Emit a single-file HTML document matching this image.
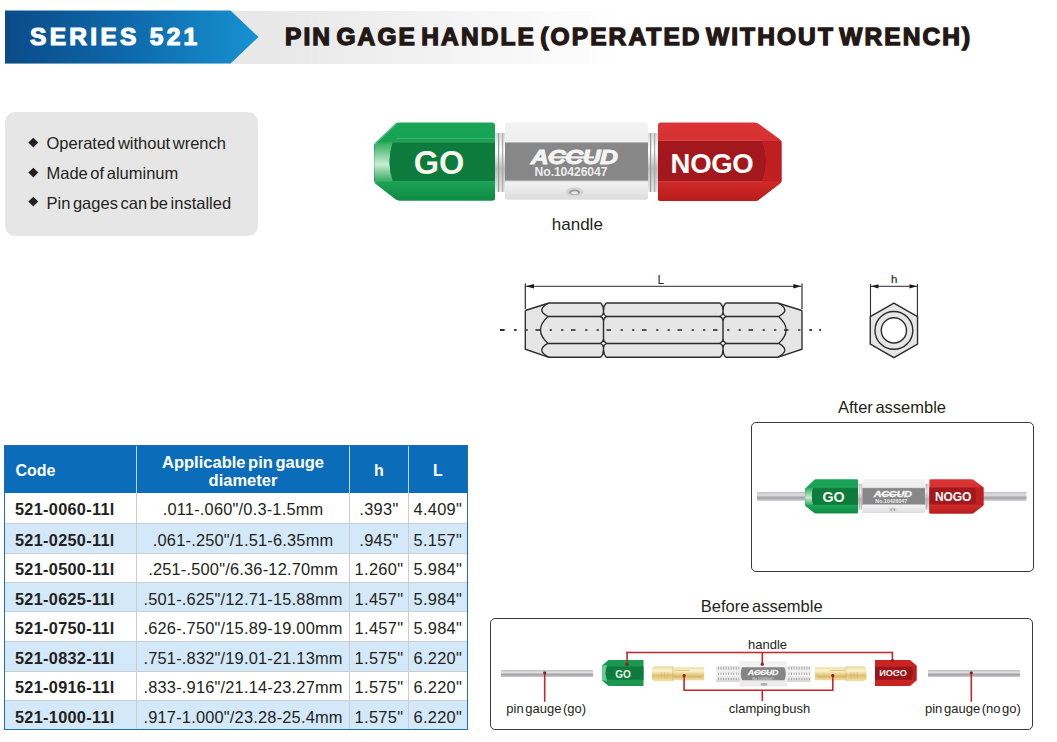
<!DOCTYPE html><html><head><meta charset="utf-8"><style>
html,body{margin:0;padding:0;background:#fff;}
body{width:1057px;height:742px;position:relative;overflow:hidden;font-family:"Liberation Sans",sans-serif;color:#231f20;}
.a{position:absolute;white-space:nowrap;line-height:1;}
svg{position:absolute;overflow:visible;}
</style></head><body>
<div class="a" style="left:5px;top:10.5px;width:640px;height:53px;background:linear-gradient(90deg,#e3e3e3 0%,#e9e9e9 45%,#ffffff 97%)"></div>
<svg style="left:0;top:0" width="270" height="70"><defs><linearGradient id="bg1" x1="0" x2="1" y1="0" y2="0"><stop offset="0" stop-color="#0a4b88"/><stop offset="0.5" stop-color="#0e6aac"/><stop offset="1" stop-color="#1792d2"/></linearGradient></defs>
<polygon points="5,10.5 230.5,10.5 258.5,37 230.5,63.5 5,63.5" fill="url(#bg1)"/></svg>
<div class="a" style="left:30px;top:24.5px;font-size:24.5px;font-weight:bold;letter-spacing:3.3px;color:#fff;-webkit-text-stroke:1.2px #fff">SERIES 521</div>
<div class="a" style="left:285px;top:24.5px;font-size:24.5px;font-weight:bold;letter-spacing:2.1px;word-spacing:-4.6px;color:#231815;-webkit-text-stroke:1.35px #231815">PIN GAGE HANDLE (OPERATED WITHOUT WRENCH)</div>
<div class="a" style="left:5px;top:112px;width:253px;height:124px;background:#e6e6e6;border-radius:10px"></div>
<div class="a" style="left:30.3px;top:139.2px;width:6.6px;height:6.6px;background:#231f20;transform:rotate(45deg)"></div>
<div class="a" style="left:46.5px;top:135.0px;font-size:16.5px;word-spacing:-2px">Operated without wrench</div>
<div class="a" style="left:30.3px;top:168.8px;width:6.6px;height:6.6px;background:#231f20;transform:rotate(45deg)"></div>
<div class="a" style="left:46.5px;top:165.0px;font-size:16.5px;word-spacing:-2px">Made of aluminum</div>
<div class="a" style="left:30.3px;top:198.4px;width:6.6px;height:6.6px;background:#231f20;transform:rotate(45deg)"></div>
<div class="a" style="left:46.5px;top:195.0px;font-size:16.5px;word-spacing:-2px">Pin gages can be installed</div>
<svg style="left:374px;top:122px" width="408.0" height="80.0" viewBox="0 0 408 80">
<defs>
<linearGradient id="h1gt" x1="0" y1="0" x2="0" y2="1"><stop offset="0" stop-color="#19a456"/><stop offset="1" stop-color="#0f994b"/></linearGradient>
<linearGradient id="h1gb" x1="0" y1="0" x2="0" y2="1"><stop offset="0" stop-color="#1aa456"/><stop offset="1" stop-color="#0e8a44"/></linearGradient>
<linearGradient id="h1gc" x1="0" y1="0" x2="0" y2="1"><stop offset="0" stop-color="#2aa85a"/><stop offset="0.35" stop-color="#8fd4a8"/><stop offset="0.55" stop-color="#c8ecd2"/><stop offset="1" stop-color="#2aa35a"/></linearGradient>
<linearGradient id="h1rt" x1="0" y1="0" x2="0" y2="1"><stop offset="0" stop-color="#da3434"/><stop offset="1" stop-color="#cb2626"/></linearGradient>
<linearGradient id="h1rb" x1="0" y1="0" x2="0" y2="1"><stop offset="0" stop-color="#d02a2a"/><stop offset="1" stop-color="#b81c1c"/></linearGradient>
<linearGradient id="h1st" x1="0" y1="0" x2="0" y2="1"><stop offset="0" stop-color="#f2f2f2"/><stop offset="1" stop-color="#e4e4e4"/></linearGradient>
<linearGradient id="h1sb" x1="0" y1="0" x2="0" y2="1"><stop offset="0" stop-color="#f4f4f4"/><stop offset="1" stop-color="#dcdcdc"/></linearGradient>
<linearGradient id="h1nk" x1="0" y1="0" x2="0" y2="1"><stop offset="0" stop-color="#d8d8d8"/><stop offset="0.3" stop-color="#ffffff"/><stop offset="0.6" stop-color="#bdbdbd"/><stop offset="1" stop-color="#e8e8e8"/></linearGradient>
</defs>
<!-- necks -->
<rect x="119" y="11" width="14" height="59" fill="url(#h1nk)"/>
<rect x="124" y="11" width="1.2" height="59" fill="#9a9a9a"/>
<rect x="128" y="11" width="1.2" height="59" fill="#a8a8a8"/>
<rect x="272" y="11" width="13" height="59" fill="url(#h1nk)"/>
<rect x="276" y="11" width="1.2" height="59" fill="#9a9a9a"/>
<rect x="280" y="11" width="1.2" height="59" fill="#a8a8a8"/>
<!-- green -->
<path d="M22,1 Q24,0.5 26,0.5 H118 Q121,0.5 121,3 V76 Q121,78.5 118,78.5 H26 Q24,78.5 22,77.5 L2,62 Q0,60.5 0,58 V24 Q0,21.5 2,20 Z" fill="url(#h1gt)"/>
<path d="M1,21 L19,19.5 Q12,40 19,59.5 L1,61 Q-0.5,40 1,21 Z" fill="url(#h1gc)"/>
<path d="M19,19.5 H121 V59.5 H19 Q12,40 19,19.5 Z" fill="#0c7b3c"/>
<path d="M19,59.5 H121 V76 Q121,78.5 118,78.5 H26 Q24,78.5 22,77.5 L2,62 Q0.5,61 1,61 Z" fill="url(#h1gb)"/>
<path d="M22,16.5 H121" stroke="#54c585" stroke-width="1" opacity="0.55"/>
<path d="M19,19.8 H121" stroke="#3db06c" stroke-width="1.2" opacity="0.8"/>
<path d="M19,59.3 H121" stroke="#2ea862" stroke-width="1" opacity="0.7"/>
<path d="M1,22 L22,2" stroke="#7fd3a0" stroke-width="1.6" opacity="0.5"/>
<!-- silver -->
<rect x="131" y="0.5" width="143" height="77" rx="2.5" fill="url(#h1st)"/>
<rect x="131" y="20.5" width="143" height="38.5" fill="#878787"/>
<rect x="131" y="59" width="143" height="18.5" rx="2" fill="url(#h1sb)"/>
<rect x="131" y="20" width="143" height="1" fill="#b8b8b8"/>
<rect x="131" y="58.5" width="143" height="1" fill="#d0d0d0"/>
<ellipse cx="200.5" cy="70" rx="9" ry="4.5" fill="#d4d4d4"/>
<ellipse cx="200.5" cy="70.3" rx="5.5" ry="2.8" fill="#9a9a9a"/>
<ellipse cx="200.5" cy="70.8" rx="3.5" ry="1.6" fill="#e8e8e8"/>
<!-- red -->
<path d="M284,3 Q284,0.5 287,0.5 H381 Q383,0.5 385,2 L405.5,17 Q407.5,18.5 407.5,21 V58 Q407.5,60.5 405.5,62 L385,77.5 Q383,79 381,79 H287 Q284,79 284,76.5 Z" fill="url(#h1rt)"/>
<path d="M284,19 H388 Q396,40 388,59 H284 Z" fill="#a3181c"/>
<path d="M284,59 H388 L407.5,60 L385,77.5 Q383,79 381,79 H287 Q284,79 284,76.5 Z" fill="url(#h1rb)"/>
<path d="M388,19 L407.5,19 V60 L388,59 Q396,40 388,19 Z" fill="#c01f22"/>
<path d="M284,18.5 H388" stroke="#e25555" stroke-width="1" opacity="0.6"/>
<path d="M284,59.5 H388" stroke="#dc4444" stroke-width="1" opacity="0.5"/>
<!-- text -->
<text x="65" y="52.2" text-anchor="middle" font-family="Liberation Sans" font-weight="bold" font-size="32.5" fill="#f6f6ee" letter-spacing="0">GO</text>
<text x="338" y="51.2" text-anchor="middle" font-family="Liberation Sans" font-weight="bold" font-size="27.5" fill="#ffffff" letter-spacing="-0.3">NOGO</text>
<g transform="translate(200,0) scale(1.24,1)"><text x="0" y="42" text-anchor="middle" font-family="Liberation Sans" font-weight="bold" font-style="italic" font-size="20" fill="#f4f4f4" stroke="#f4f4f4" stroke-width="0.9" letter-spacing="-0.5">ACCUD</text></g><rect x="174" y="34.3" width="46" height="2.2" fill="#f4f4f4"/>
<text x="197" y="54" text-anchor="middle" font-family="Liberation Sans" font-weight="bold" font-size="12.2" fill="#ececec" letter-spacing="-0.1">No.10426047</text>
</svg>
<div class="a" style="left:551.8px;top:215.5px;font-size:17px">handle</div>
<svg style="left:0;top:0" width="1057" height="742">
<line x1="500" y1="330" x2="821" y2="330" stroke="#222" stroke-width="1.4" stroke-dasharray="4.5 9.7 2.2 9.2 2.2 7.7" stroke-dashoffset="0"/>
<path d="M525.3,310.5 L549,303 H777.6 L802,310.5 V349.2 L777.6,357.3 H549 L525.3,349.2 Z" fill="#e6e6e6"/>
<line x1="500" y1="330" x2="821" y2="330" stroke="#222" stroke-width="1.4" stroke-dasharray="4.5 9.7 2.2 9.2 2.2 7.7"/>
<path d="M525.3,310.5 L549,303 M525.3,310.5 V349.2 L549,357.3" stroke="#2b2b2b" stroke-width="1.35" fill="none"/>
<path d="M802,310.5 L777.6,303 M802,310.5 V349.2 L777.6,357.3" stroke="#2b2b2b" stroke-width="1.35" fill="none"/>
<line x1="549" y1="303" x2="600.8" y2="303" stroke="#2b2b2b" stroke-width="1.6"/>
<line x1="549" y1="357.3" x2="600.8" y2="357.3" stroke="#2b2b2b" stroke-width="1.6"/>
<line x1="606.2" y1="303" x2="720.3" y2="303" stroke="#2b2b2b" stroke-width="1.6"/>
<line x1="606.2" y1="357.3" x2="720.3" y2="357.3" stroke="#2b2b2b" stroke-width="1.6"/>
<line x1="725.7" y1="303" x2="777.6" y2="303" stroke="#2b2b2b" stroke-width="1.6"/>
<line x1="725.7" y1="357.3" x2="777.6" y2="357.3" stroke="#2b2b2b" stroke-width="1.6"/>
<line x1="548" y1="316.5" x2="600.5" y2="316.5" stroke="#2b2b2b" stroke-width="1.5"/>
<line x1="548" y1="343.4" x2="600.5" y2="343.4" stroke="#2b2b2b" stroke-width="1.5"/>
<line x1="606.5" y1="316.5" x2="720" y2="316.5" stroke="#2b2b2b" stroke-width="1.5"/>
<line x1="606.5" y1="343.4" x2="720" y2="343.4" stroke="#2b2b2b" stroke-width="1.5"/>
<line x1="726" y1="316.5" x2="778.5" y2="316.5" stroke="#2b2b2b" stroke-width="1.5"/>
<line x1="726" y1="343.4" x2="778.5" y2="343.4" stroke="#2b2b2b" stroke-width="1.5"/>
<path d="M549,303 Q535,309.7 548,316.5 Q533,330 548,343.4 Q535,350.3 549,357.3" stroke="#2b2b2b" stroke-width="1.35" fill="none"/>
<path d="M777.6,303 Q791.6,309.7 778.6,316.5 Q793.6,330 778.6,343.4 Q791.6,350.3 777.6,357.3" stroke="#2b2b2b" stroke-width="1.35" fill="none"/>
<path d="M600.8,303 Q603.5,306 603.5,310 Q603.5,306 606.2,303" stroke="#2b2b2b" stroke-width="1.35" fill="none"/>
<path d="M600.8,357.3 Q603.5,354.3 603.5,350.3 Q603.5,354.3 606.2,357.3" stroke="#2b2b2b" stroke-width="1.35" fill="none"/>
<line x1="603.5" y1="306" x2="603.5" y2="354.3" stroke="#2b2b2b" stroke-width="1.4"/>
<path d="M600.5,316.5 Q603.0,315.5 603.5,312.5 Q604.0,315.5 606.5,316.5 Q604.0,317.5 603.5,320.5 Q603.0,317.5 600.5,316.5 Z" fill="#fff" stroke="#2b2b2b" stroke-width="1.35" fill="none"/>
<path d="M600.5,343.4 Q603.0,342.4 603.5,339.4 Q604.0,342.4 606.5,343.4 Q604.0,344.4 603.5,347.4 Q603.0,344.4 600.5,343.4 Z" fill="#fff" stroke="#2b2b2b" stroke-width="1.35" fill="none"/>
<path d="M720.3,303 Q723,306 723,310 Q723,306 725.7,303" stroke="#2b2b2b" stroke-width="1.35" fill="none"/>
<path d="M720.3,357.3 Q723,354.3 723,350.3 Q723,354.3 725.7,357.3" stroke="#2b2b2b" stroke-width="1.35" fill="none"/>
<line x1="723" y1="306" x2="723" y2="354.3" stroke="#2b2b2b" stroke-width="1.4"/>
<path d="M720,316.5 Q722.5,315.5 723,312.5 Q723.5,315.5 726,316.5 Q723.5,317.5 723,320.5 Q722.5,317.5 720,316.5 Z" fill="#fff" stroke="#2b2b2b" stroke-width="1.35" fill="none"/>
<path d="M720,343.4 Q722.5,342.4 723,339.4 Q723.5,342.4 726,343.4 Q723.5,344.4 723,347.4 Q722.5,344.4 720,343.4 Z" fill="#fff" stroke="#2b2b2b" stroke-width="1.35" fill="none"/>
<line x1="525.3" y1="283.5" x2="525.3" y2="309" stroke="#2b2b2b" stroke-width="1.2"/>
<line x1="802" y1="283.5" x2="802" y2="309" stroke="#2b2b2b" stroke-width="1.2"/>
<line x1="526" y1="286.3" x2="801" y2="286.3" stroke="#2b2b2b" stroke-width="1"/>
<path d="M525.8,286.3 L534,284 L534,288.6 Z" fill="#1a1a1a"/>
<path d="M801.5,286.3 L793.3,284 L793.3,288.6 Z" fill="#1a1a1a"/>
<polygon points="893.90,303.10 870.26,316.75 870.26,344.05 893.90,357.70 917.54,344.05 917.54,316.75" fill="#e6e6e6" stroke="#2b2b2b" stroke-width="1.4"/>
<circle cx="893.9" cy="330.4" r="18.9" fill="none" stroke="#2b2b2b" stroke-width="1.4"/>
<circle cx="893.9" cy="330.4" r="12.6" fill="#fff" stroke="#2b2b2b" stroke-width="1.4"/>
<line x1="870.5" y1="284" x2="870.5" y2="316.5" stroke="#2b2b2b" stroke-width="1.1"/>
<line x1="917.4" y1="284" x2="917.4" y2="316.5" stroke="#2b2b2b" stroke-width="1.1"/>
<line x1="871" y1="286.3" x2="917" y2="286.3" stroke="#2b2b2b" stroke-width="1"/>
<path d="M871,286.3 L878.5,284.2 L878.5,288.4 Z" fill="#1a1a1a"/>
<path d="M917,286.3 L909.5,284.2 L909.5,288.4 Z" fill="#1a1a1a"/>
</svg>
<div class="a" style="left:657.5px;top:273.8px;font-size:12px;color:#2b2b2b">L</div>
<div class="a" style="left:891px;top:274.3px;font-size:11.5px;color:#2b2b2b;-webkit-text-stroke:0.2px #2b2b2b">h</div>
<div class="a" style="left:5px;top:446px;width:462.5px;height:46.5px;background:#0b6db9"></div>
<div class="a" style="left:5px;top:492.5px;width:462.5px;height:30.799999999999955px;background:#ffffff"></div>
<div class="a" style="left:5px;top:523.3px;width:462.5px;height:29.800000000000068px;background:#d3e8f8"></div>
<div class="a" style="left:5px;top:553.1px;width:462.5px;height:29.299999999999955px;background:#ffffff"></div>
<div class="a" style="left:5px;top:582.4px;width:462.5px;height:29.300000000000068px;background:#d3e8f8"></div>
<div class="a" style="left:5px;top:611.7px;width:462.5px;height:29.699999999999932px;background:#ffffff"></div>
<div class="a" style="left:5px;top:641.4px;width:462.5px;height:29.700000000000045px;background:#d3e8f8"></div>
<div class="a" style="left:5px;top:671.1px;width:462.5px;height:29.299999999999955px;background:#ffffff"></div>
<div class="a" style="left:5px;top:700.4px;width:462.5px;height:29.0px;background:#d3e8f8"></div>
<div class="a" style="left:5px;top:522.8px;width:462.5px;height:1px;background:#c9cdd1"></div>
<div class="a" style="left:5px;top:552.6px;width:462.5px;height:1px;background:#c9cdd1"></div>
<div class="a" style="left:5px;top:581.9px;width:462.5px;height:1px;background:#c9cdd1"></div>
<div class="a" style="left:5px;top:611.2px;width:462.5px;height:1px;background:#c9cdd1"></div>
<div class="a" style="left:5px;top:640.9px;width:462.5px;height:1px;background:#c9cdd1"></div>
<div class="a" style="left:5px;top:670.6px;width:462.5px;height:1px;background:#c9cdd1"></div>
<div class="a" style="left:5px;top:699.9px;width:462.5px;height:1px;background:#c9cdd1"></div>
<div class="a" style="left:136.0px;top:492.5px;width:1px;height:237px;background:#c9cdd1"></div>
<div class="a" style="left:136.0px;top:446px;width:1px;height:46.5px;background:#bcd6ee"></div>
<div class="a" style="left:349.2px;top:492.5px;width:1px;height:237px;background:#c9cdd1"></div>
<div class="a" style="left:349.2px;top:446px;width:1px;height:46.5px;background:#bcd6ee"></div>
<div class="a" style="left:407.7px;top:492.5px;width:1px;height:237px;background:#c9cdd1"></div>
<div class="a" style="left:407.7px;top:446px;width:1px;height:46.5px;background:#bcd6ee"></div>
<div class="a" style="left:4px;top:445px;width:461.5px;height:282.5px;border:1.6px solid #1f6db4"></div>
<div class="a" style="left:15.5px;top:463px;font-size:16px;font-weight:bold;color:#fff">Code</div>
<div class="a" style="left:136.5px;width:213px;top:453.2px;font-size:16px;font-weight:bold;color:#fff;font-size:16.5px;text-align:center;line-height:18.3px;white-space:normal;word-spacing:-2px">Applicable pin gauge<br>diameter</div>
<div class="a" style="left:349.7px;width:58.5px;top:463px;font-size:16px;font-weight:bold;color:#fff;text-align:center">h</div>
<div class="a" style="left:408.2px;width:59.3px;top:463px;font-size:16px;font-weight:bold;color:#fff;text-align:center">L</div>
<div class="a" style="left:15px;top:500.8px;font-size:16.3px;font-weight:bold;letter-spacing:0.3px">521-0060-11l</div>
<div class="a" style="left:136.5px;width:213.2px;top:500.8px;font-size:16.4px;text-align:center;letter-spacing:0.2px">.011-.060"/0.3-1.5mm</div>
<div class="a" style="left:349.7px;width:58.5px;top:500.8px;font-size:16.4px;text-align:center;letter-spacing:0.3px">.393"</div>
<div class="a" style="left:408.2px;width:59.3px;top:500.8px;font-size:16.4px;text-align:center;letter-spacing:0.3px">4.409"</div>
<div class="a" style="left:15px;top:531.5999999999999px;font-size:16.3px;font-weight:bold;letter-spacing:0.3px">521-0250-11l</div>
<div class="a" style="left:136.5px;width:213.2px;top:531.5999999999999px;font-size:16.4px;text-align:center;letter-spacing:0.2px">.061-.250"/1.51-6.35mm</div>
<div class="a" style="left:349.7px;width:58.5px;top:531.5999999999999px;font-size:16.4px;text-align:center;letter-spacing:0.3px">.945"</div>
<div class="a" style="left:408.2px;width:59.3px;top:531.5999999999999px;font-size:16.4px;text-align:center;letter-spacing:0.3px">5.157"</div>
<div class="a" style="left:15px;top:561.4px;font-size:16.3px;font-weight:bold;letter-spacing:0.3px">521-0500-11l</div>
<div class="a" style="left:136.5px;width:213.2px;top:561.4px;font-size:16.4px;text-align:center;letter-spacing:0.2px">.251-.500"/6.36-12.70mm</div>
<div class="a" style="left:349.7px;width:58.5px;top:561.4px;font-size:16.4px;text-align:center;letter-spacing:0.3px">1.260"</div>
<div class="a" style="left:408.2px;width:59.3px;top:561.4px;font-size:16.4px;text-align:center;letter-spacing:0.3px">5.984"</div>
<div class="a" style="left:15px;top:590.6999999999999px;font-size:16.3px;font-weight:bold;letter-spacing:0.3px">521-0625-11l</div>
<div class="a" style="left:136.5px;width:213.2px;top:590.6999999999999px;font-size:16.4px;text-align:center;letter-spacing:0.2px">.501-.625"/12.71-15.88mm</div>
<div class="a" style="left:349.7px;width:58.5px;top:590.6999999999999px;font-size:16.4px;text-align:center;letter-spacing:0.3px">1.457"</div>
<div class="a" style="left:408.2px;width:59.3px;top:590.6999999999999px;font-size:16.4px;text-align:center;letter-spacing:0.3px">5.984"</div>
<div class="a" style="left:15px;top:620.0px;font-size:16.3px;font-weight:bold;letter-spacing:0.3px">521-0750-11l</div>
<div class="a" style="left:136.5px;width:213.2px;top:620.0px;font-size:16.4px;text-align:center;letter-spacing:0.2px">.626-.750"/15.89-19.00mm</div>
<div class="a" style="left:349.7px;width:58.5px;top:620.0px;font-size:16.4px;text-align:center;letter-spacing:0.3px">1.457"</div>
<div class="a" style="left:408.2px;width:59.3px;top:620.0px;font-size:16.4px;text-align:center;letter-spacing:0.3px">5.984"</div>
<div class="a" style="left:15px;top:649.6999999999999px;font-size:16.3px;font-weight:bold;letter-spacing:0.3px">521-0832-11l</div>
<div class="a" style="left:136.5px;width:213.2px;top:649.6999999999999px;font-size:16.4px;text-align:center;letter-spacing:0.2px">.751-.832"/19.01-21.13mm</div>
<div class="a" style="left:349.7px;width:58.5px;top:649.6999999999999px;font-size:16.4px;text-align:center;letter-spacing:0.3px">1.575"</div>
<div class="a" style="left:408.2px;width:59.3px;top:649.6999999999999px;font-size:16.4px;text-align:center;letter-spacing:0.3px">6.220"</div>
<div class="a" style="left:15px;top:679.4px;font-size:16.3px;font-weight:bold;letter-spacing:0.3px">521-0916-11l</div>
<div class="a" style="left:136.5px;width:213.2px;top:679.4px;font-size:16.4px;text-align:center;letter-spacing:0.2px">.833-.916"/21.14-23.27mm</div>
<div class="a" style="left:349.7px;width:58.5px;top:679.4px;font-size:16.4px;text-align:center;letter-spacing:0.3px">1.575"</div>
<div class="a" style="left:408.2px;width:59.3px;top:679.4px;font-size:16.4px;text-align:center;letter-spacing:0.3px">6.220"</div>
<div class="a" style="left:15px;top:708.6999999999999px;font-size:16.3px;font-weight:bold;letter-spacing:0.3px">521-1000-11l</div>
<div class="a" style="left:136.5px;width:213.2px;top:708.6999999999999px;font-size:16.4px;text-align:center;letter-spacing:0.2px">.917-1.000"/23.28-25.4mm</div>
<div class="a" style="left:349.7px;width:58.5px;top:708.6999999999999px;font-size:16.4px;text-align:center;letter-spacing:0.3px">1.575"</div>
<div class="a" style="left:408.2px;width:59.3px;top:708.6999999999999px;font-size:16.4px;text-align:center;letter-spacing:0.3px">6.220"</div>
<div class="a" style="left:838px;top:398.5px;font-size:16.5px;word-spacing:-2px">After assemble</div>
<div class="a" style="left:751px;top:422px;width:280.5px;height:147.8px;border:1.8px solid #3a3a3a;border-radius:5px"></div>
<svg style="left:757px;top:491.6px" width="53" height="8.799999999999955" viewBox="0 0 53 8.799999999999955" preserveAspectRatio="none">
<defs><linearGradient id="rd1" x1="0" y1="0" x2="0" y2="1"><stop offset="0" stop-color="#bdbdc0"/><stop offset="0.35" stop-color="#e0e0e2"/><stop offset="0.65" stop-color="#a2a2a6"/><stop offset="1" stop-color="#cdcdd0"/></linearGradient></defs>
<rect x="0" y="0" width="53" height="8.799999999999955" fill="url(#rd1)"/></svg>
<svg style="left:978px;top:491.6px" width="48.5" height="8.799999999999955" viewBox="0 0 48.5 8.799999999999955" preserveAspectRatio="none">
<defs><linearGradient id="rd2" x1="0" y1="0" x2="0" y2="1"><stop offset="0" stop-color="#bdbdc0"/><stop offset="0.35" stop-color="#e0e0e2"/><stop offset="0.65" stop-color="#a2a2a6"/><stop offset="1" stop-color="#cdcdd0"/></linearGradient></defs>
<rect x="0" y="0" width="48.5" height="8.799999999999955" fill="url(#rd2)"/></svg>
<svg style="left:805px;top:479.3px" width="178.704" height="35.04" viewBox="0 0 408 80">
<defs>
<linearGradient id="h2gt" x1="0" y1="0" x2="0" y2="1"><stop offset="0" stop-color="#19a456"/><stop offset="1" stop-color="#0f994b"/></linearGradient>
<linearGradient id="h2gb" x1="0" y1="0" x2="0" y2="1"><stop offset="0" stop-color="#1aa456"/><stop offset="1" stop-color="#0e8a44"/></linearGradient>
<linearGradient id="h2gc" x1="0" y1="0" x2="0" y2="1"><stop offset="0" stop-color="#2aa85a"/><stop offset="0.35" stop-color="#8fd4a8"/><stop offset="0.55" stop-color="#c8ecd2"/><stop offset="1" stop-color="#2aa35a"/></linearGradient>
<linearGradient id="h2rt" x1="0" y1="0" x2="0" y2="1"><stop offset="0" stop-color="#da3434"/><stop offset="1" stop-color="#cb2626"/></linearGradient>
<linearGradient id="h2rb" x1="0" y1="0" x2="0" y2="1"><stop offset="0" stop-color="#d02a2a"/><stop offset="1" stop-color="#b81c1c"/></linearGradient>
<linearGradient id="h2st" x1="0" y1="0" x2="0" y2="1"><stop offset="0" stop-color="#f2f2f2"/><stop offset="1" stop-color="#e4e4e4"/></linearGradient>
<linearGradient id="h2sb" x1="0" y1="0" x2="0" y2="1"><stop offset="0" stop-color="#f4f4f4"/><stop offset="1" stop-color="#dcdcdc"/></linearGradient>
<linearGradient id="h2nk" x1="0" y1="0" x2="0" y2="1"><stop offset="0" stop-color="#d8d8d8"/><stop offset="0.3" stop-color="#ffffff"/><stop offset="0.6" stop-color="#bdbdbd"/><stop offset="1" stop-color="#e8e8e8"/></linearGradient>
</defs>
<!-- necks -->
<rect x="119" y="11" width="14" height="59" fill="url(#h2nk)"/>
<rect x="124" y="11" width="1.2" height="59" fill="#9a9a9a"/>
<rect x="128" y="11" width="1.2" height="59" fill="#a8a8a8"/>
<rect x="272" y="11" width="13" height="59" fill="url(#h2nk)"/>
<rect x="276" y="11" width="1.2" height="59" fill="#9a9a9a"/>
<rect x="280" y="11" width="1.2" height="59" fill="#a8a8a8"/>
<!-- green -->
<path d="M22,1 Q24,0.5 26,0.5 H118 Q121,0.5 121,3 V76 Q121,78.5 118,78.5 H26 Q24,78.5 22,77.5 L2,62 Q0,60.5 0,58 V24 Q0,21.5 2,20 Z" fill="url(#h2gt)"/>
<path d="M1,21 L19,19.5 Q12,40 19,59.5 L1,61 Q-0.5,40 1,21 Z" fill="url(#h2gc)"/>
<path d="M19,19.5 H121 V59.5 H19 Q12,40 19,19.5 Z" fill="#0c7b3c"/>
<path d="M19,59.5 H121 V76 Q121,78.5 118,78.5 H26 Q24,78.5 22,77.5 L2,62 Q0.5,61 1,61 Z" fill="url(#h2gb)"/>
<path d="M22,16.5 H121" stroke="#54c585" stroke-width="1" opacity="0.55"/>
<path d="M19,19.8 H121" stroke="#3db06c" stroke-width="1.2" opacity="0.8"/>
<path d="M19,59.3 H121" stroke="#2ea862" stroke-width="1" opacity="0.7"/>
<path d="M1,22 L22,2" stroke="#7fd3a0" stroke-width="1.6" opacity="0.5"/>
<!-- silver -->
<rect x="131" y="0.5" width="143" height="77" rx="2.5" fill="url(#h2st)"/>
<rect x="131" y="20.5" width="143" height="38.5" fill="#878787"/>
<rect x="131" y="59" width="143" height="18.5" rx="2" fill="url(#h2sb)"/>
<rect x="131" y="20" width="143" height="1" fill="#b8b8b8"/>
<rect x="131" y="58.5" width="143" height="1" fill="#d0d0d0"/>
<ellipse cx="200.5" cy="70" rx="9" ry="4.5" fill="#d4d4d4"/>
<ellipse cx="200.5" cy="70.3" rx="5.5" ry="2.8" fill="#9a9a9a"/>
<ellipse cx="200.5" cy="70.8" rx="3.5" ry="1.6" fill="#e8e8e8"/>
<!-- red -->
<path d="M284,3 Q284,0.5 287,0.5 H381 Q383,0.5 385,2 L405.5,17 Q407.5,18.5 407.5,21 V58 Q407.5,60.5 405.5,62 L385,77.5 Q383,79 381,79 H287 Q284,79 284,76.5 Z" fill="url(#h2rt)"/>
<path d="M284,19 H388 Q396,40 388,59 H284 Z" fill="#a3181c"/>
<path d="M284,59 H388 L407.5,60 L385,77.5 Q383,79 381,79 H287 Q284,79 284,76.5 Z" fill="url(#h2rb)"/>
<path d="M388,19 L407.5,19 V60 L388,59 Q396,40 388,19 Z" fill="#c01f22"/>
<path d="M284,18.5 H388" stroke="#e25555" stroke-width="1" opacity="0.6"/>
<path d="M284,59.5 H388" stroke="#dc4444" stroke-width="1" opacity="0.5"/>
<!-- text -->
<text x="65" y="52.2" text-anchor="middle" font-family="Liberation Sans" font-weight="bold" font-size="32.5" fill="#f6f6ee" letter-spacing="0">GO</text>
<text x="338" y="51.2" text-anchor="middle" font-family="Liberation Sans" font-weight="bold" font-size="27.5" fill="#ffffff" letter-spacing="-0.3">NOGO</text>
<g transform="translate(200,0) scale(1.24,1)"><text x="0" y="42" text-anchor="middle" font-family="Liberation Sans" font-weight="bold" font-style="italic" font-size="20" fill="#f4f4f4" stroke="#f4f4f4" stroke-width="0.9" letter-spacing="-0.5">ACCUD</text></g><rect x="174" y="34.3" width="46" height="2.2" fill="#f4f4f4"/>
<text x="197" y="54" text-anchor="middle" font-family="Liberation Sans" font-weight="bold" font-size="12.2" fill="#ececec" letter-spacing="-0.1">No.10426047</text>
</svg>
<div class="a" style="left:700.8px;top:597.7px;font-size:16.5px;word-spacing:-2px">Before assemble</div>
<div class="a" style="left:490.3px;top:618.2px;width:541px;height:109.8px;border:1.8px solid #3a3a3a;border-radius:5px"></div>
<svg style="left:501px;top:669.6px" width="92" height="7.0" viewBox="0 0 92 7.0" preserveAspectRatio="none">
<defs><linearGradient id="rd3" x1="0" y1="0" x2="0" y2="1"><stop offset="0" stop-color="#bdbdc0"/><stop offset="0.35" stop-color="#e0e0e2"/><stop offset="0.65" stop-color="#a2a2a6"/><stop offset="1" stop-color="#cdcdd0"/></linearGradient></defs>
<rect x="0" y="0" width="92" height="7.0" fill="url(#rd3)"/></svg>
<svg style="left:928px;top:669.6px" width="92" height="7.0" viewBox="0 0 92 7.0" preserveAspectRatio="none">
<defs><linearGradient id="rd4" x1="0" y1="0" x2="0" y2="1"><stop offset="0" stop-color="#bdbdc0"/><stop offset="0.35" stop-color="#e0e0e2"/><stop offset="0.65" stop-color="#a2a2a6"/><stop offset="1" stop-color="#cdcdd0"/></linearGradient></defs>
<rect x="0" y="0" width="92" height="7.0" fill="url(#rd4)"/></svg>
<svg style="left:602.2px;top:660.4px" width="41.5" height="26" viewBox="0 0 41.5 26">
<path d="M6.5,0 H41.5 V26 H6.5 L0,20.5 V5.5 Z" fill="#1a9850"/>
<path d="M0,5.5 L5,5 L3.5,13 L5,21 L0,20.5 Z" fill="#6cc890"/>
<path d="M5,6.6 H41.5 V19.7 H5 Q2.5,13 5,6.6 Z" fill="#0e7a3c"/>
<text x="21" y="17.6" text-anchor="middle" font-family="Liberation Sans" font-weight="bold" font-size="10" fill="#e8f5e8">GO</text>
</svg>
<svg style="left:651.8px;top:665.5px" width="52.2" height="15.5" viewBox="0 0 52.2 15.5">
<defs><linearGradient id="br1" x1="0" y1="0" x2="0" y2="1"><stop offset="0" stop-color="#e8d69c"/><stop offset="0.3" stop-color="#fdf4d0"/><stop offset="0.62" stop-color="#e0c272"/><stop offset="1" stop-color="#f1e1ac"/></linearGradient></defs>
<g >
<path d="M0,2 L3,0.3 H20.880000000000003 L21.402,1.3 H52.2 V14.2 H21.402 L20.880000000000003,15.2 H3 L0,13.5 Z" fill="url(#br1)"/>
<path d="M21.402,4.5 H37.584 M21.402,11.0 H49.59" stroke="#c9a04a" stroke-width="0.9" opacity="0.6"/>
<path d="M20.880000000000003,1 V14.5" stroke="#c9a24a" stroke-width="0.8" opacity="0.5"/>
<path d="M9.396,6 V12.5 M12.528,6 V12.5 M15.66,6 V12.5" stroke="#c9a04a" stroke-width="0.6" opacity="0.5"/>
</g></svg>
<svg style="left:715.5px;top:660.8px" width="94.5" height="25.5" viewBox="0 0 94.5 25.5">
<defs><linearGradient id="thg" x1="0" y1="0" x2="0" y2="1"><stop offset="0" stop-color="#e2e2e2"/><stop offset="0.5" stop-color="#f8f8f8"/><stop offset="1" stop-color="#d8d8d8"/></linearGradient></defs>
<rect x="0" y="5" width="94.5" height="16" fill="url(#thg)"/>
<rect x="2.00" y="6.1" width="0.9" height="2.4" fill="#9e9e9e"/><rect x="72.50" y="6.1" width="0.9" height="2.4" fill="#9e9e9e"/><rect x="4.55" y="6.1" width="0.9" height="2.4" fill="#9e9e9e"/><rect x="75.05" y="6.1" width="0.9" height="2.4" fill="#9e9e9e"/><rect x="7.10" y="6.1" width="0.9" height="2.4" fill="#9e9e9e"/><rect x="77.60" y="6.1" width="0.9" height="2.4" fill="#9e9e9e"/><rect x="9.65" y="6.1" width="0.9" height="2.4" fill="#9e9e9e"/><rect x="80.15" y="6.1" width="0.9" height="2.4" fill="#9e9e9e"/><rect x="12.20" y="6.1" width="0.9" height="2.4" fill="#9e9e9e"/><rect x="82.70" y="6.1" width="0.9" height="2.4" fill="#9e9e9e"/><rect x="14.75" y="6.1" width="0.9" height="2.4" fill="#9e9e9e"/><rect x="85.25" y="6.1" width="0.9" height="2.4" fill="#9e9e9e"/><rect x="17.30" y="6.1" width="0.9" height="2.4" fill="#9e9e9e"/><rect x="87.80" y="6.1" width="0.9" height="2.4" fill="#9e9e9e"/><rect x="19.85" y="6.1" width="0.9" height="2.4" fill="#9e9e9e"/><rect x="90.35" y="6.1" width="0.9" height="2.4" fill="#9e9e9e"/><rect x="22.40" y="6.1" width="0.9" height="2.4" fill="#9e9e9e"/><rect x="92.90" y="6.1" width="0.9" height="2.4" fill="#9e9e9e"/><rect x="2.00" y="11.5" width="0.9" height="2.4" fill="#9e9e9e"/><rect x="72.50" y="11.5" width="0.9" height="2.4" fill="#9e9e9e"/><rect x="4.55" y="11.5" width="0.9" height="2.4" fill="#9e9e9e"/><rect x="75.05" y="11.5" width="0.9" height="2.4" fill="#9e9e9e"/><rect x="7.10" y="11.5" width="0.9" height="2.4" fill="#9e9e9e"/><rect x="77.60" y="11.5" width="0.9" height="2.4" fill="#9e9e9e"/><rect x="9.65" y="11.5" width="0.9" height="2.4" fill="#9e9e9e"/><rect x="80.15" y="11.5" width="0.9" height="2.4" fill="#9e9e9e"/><rect x="12.20" y="11.5" width="0.9" height="2.4" fill="#9e9e9e"/><rect x="82.70" y="11.5" width="0.9" height="2.4" fill="#9e9e9e"/><rect x="14.75" y="11.5" width="0.9" height="2.4" fill="#9e9e9e"/><rect x="85.25" y="11.5" width="0.9" height="2.4" fill="#9e9e9e"/><rect x="17.30" y="11.5" width="0.9" height="2.4" fill="#9e9e9e"/><rect x="87.80" y="11.5" width="0.9" height="2.4" fill="#9e9e9e"/><rect x="19.85" y="11.5" width="0.9" height="2.4" fill="#9e9e9e"/><rect x="90.35" y="11.5" width="0.9" height="2.4" fill="#9e9e9e"/><rect x="22.40" y="11.5" width="0.9" height="2.4" fill="#9e9e9e"/><rect x="92.90" y="11.5" width="0.9" height="2.4" fill="#9e9e9e"/><rect x="2.00" y="16.8" width="0.9" height="2.4" fill="#9e9e9e"/><rect x="72.50" y="16.8" width="0.9" height="2.4" fill="#9e9e9e"/><rect x="4.55" y="16.8" width="0.9" height="2.4" fill="#9e9e9e"/><rect x="75.05" y="16.8" width="0.9" height="2.4" fill="#9e9e9e"/><rect x="7.10" y="16.8" width="0.9" height="2.4" fill="#9e9e9e"/><rect x="77.60" y="16.8" width="0.9" height="2.4" fill="#9e9e9e"/><rect x="9.65" y="16.8" width="0.9" height="2.4" fill="#9e9e9e"/><rect x="80.15" y="16.8" width="0.9" height="2.4" fill="#9e9e9e"/><rect x="12.20" y="16.8" width="0.9" height="2.4" fill="#9e9e9e"/><rect x="82.70" y="16.8" width="0.9" height="2.4" fill="#9e9e9e"/><rect x="14.75" y="16.8" width="0.9" height="2.4" fill="#9e9e9e"/><rect x="85.25" y="16.8" width="0.9" height="2.4" fill="#9e9e9e"/><rect x="17.30" y="16.8" width="0.9" height="2.4" fill="#9e9e9e"/><rect x="87.80" y="16.8" width="0.9" height="2.4" fill="#9e9e9e"/><rect x="19.85" y="16.8" width="0.9" height="2.4" fill="#9e9e9e"/><rect x="90.35" y="16.8" width="0.9" height="2.4" fill="#9e9e9e"/><rect x="22.40" y="16.8" width="0.9" height="2.4" fill="#9e9e9e"/><rect x="92.90" y="16.8" width="0.9" height="2.4" fill="#9e9e9e"/>
<rect x="23.5" y="0" width="47.5" height="25.5" fill="#ececec"/>
<rect x="23.5" y="0" width="47.5" height="6" fill="#f2f2f2"/>
<path d="M26,6.2 H68.5 Q71,12.8 68.5,19.3 H26 Q23.5,12.8 26,6.2 Z" fill="#858585"/>
<g transform="translate(47,0) scale(1.12,1)"><text x="0" y="14.5" text-anchor="middle" font-family="Liberation Sans" font-weight="bold" font-style="italic" font-size="7.8" fill="#f6f6f6" stroke="#f6f6f6" stroke-width="0.3" letter-spacing="-0.2">ACCUD</text></g><rect x="38" y="11.3" width="17" height="0.8" fill="#f6f6f6"/>
<text x="47" y="18.5" text-anchor="middle" font-family="Liberation Sans" font-size="3.6" fill="#e0e0e0">No.10426047</text>
<ellipse cx="48" cy="23.3" rx="3.5" ry="1.5" fill="#b0b0b0"/>
</svg>
<svg style="left:814.5px;top:665.5px" width="51.5" height="15.5" viewBox="0 0 51.5 15.5">
<defs><linearGradient id="br2" x1="0" y1="0" x2="0" y2="1"><stop offset="0" stop-color="#e8d69c"/><stop offset="0.3" stop-color="#fdf4d0"/><stop offset="0.62" stop-color="#e0c272"/><stop offset="1" stop-color="#f1e1ac"/></linearGradient></defs>
<g transform="translate(51.5,0) scale(-1,1)">
<path d="M0,2 L3,0.3 H20.6 L21.115,1.3 H51.5 V14.2 H21.115 L20.6,15.2 H3 L0,13.5 Z" fill="url(#br2)"/>
<path d="M21.115,4.5 H37.08 M21.115,11.0 H48.925" stroke="#c9a04a" stroke-width="0.9" opacity="0.6"/>
<path d="M20.6,1 V14.5" stroke="#c9a24a" stroke-width="0.8" opacity="0.5"/>
<path d="M9.27,6 V12.5 M12.36,6 V12.5 M15.45,6 V12.5" stroke="#c9a04a" stroke-width="0.6" opacity="0.5"/>
</g></svg>
<svg style="left:875.4px;top:660.3px" width="41.5" height="26" viewBox="0 0 41.5 26">
<path d="M0,0 H35 L41.5,5.5 V20.5 L35,26 H0 Z" fill="#c92323"/>
<path d="M0,6.8 H37 Q39,13 37,19.8 H0 Z" fill="#9a1519"/>
<path d="M37,6.8 L41.5,5.5 V20.5 L37,19.8 Q39,13 37,6.8 Z" fill="#b82020"/>
<g transform="translate(0,26) scale(1,-1)"><text x="18" y="16.3" text-anchor="middle" font-family="Liberation Sans" font-weight="bold" font-size="9.2" fill="#f4f0f0" letter-spacing="-0.1">NOGO</text></g>
</svg>
<svg style="left:0;top:0" width="1057" height="742">
<line x1="626.3" y1="652.5" x2="892.4" y2="652.5" stroke="#c1272d" stroke-width="1.6"/>
<line x1="627.1" y1="651.7" x2="627.1" y2="664.5" stroke="#c1272d" stroke-width="1.6"/>
<line x1="892.4" y1="651.7" x2="892.4" y2="660.6" stroke="#c1272d" stroke-width="1.6"/>
<line x1="762.3" y1="652.5" x2="762.3" y2="664.2" stroke="#c1272d" stroke-width="1.6"/>
<line x1="684.1" y1="690.3" x2="832.8" y2="690.3" stroke="#c1272d" stroke-width="1.6"/>
<line x1="684.1" y1="675.5" x2="684.1" y2="691.1" stroke="#c1272d" stroke-width="1.6"/>
<line x1="832.8" y1="675.5" x2="832.8" y2="691.1" stroke="#c1272d" stroke-width="1.6"/>
<line x1="762.3" y1="690.3" x2="762.3" y2="701" stroke="#c1272d" stroke-width="1.6"/>
<line x1="544.7" y1="672.8" x2="544.7" y2="701.8" stroke="#c1272d" stroke-width="1.6"/>
<line x1="971.3" y1="672.8" x2="971.3" y2="701.8" stroke="#c1272d" stroke-width="1.6"/>
<circle cx="627.1" cy="664.2" r="1.6" fill="#8c1d23"/>
<circle cx="684.1" cy="675.5" r="1.6" fill="#8c1d23"/>
<circle cx="762.3" cy="664.2" r="1.6" fill="#8c1d23"/>
<circle cx="832.8" cy="675.5" r="1.6" fill="#8c1d23"/>
<circle cx="892.4" cy="660.6" r="1.6" fill="#8c1d23"/>
<circle cx="544.7" cy="672.8" r="1.6" fill="#8c1d23"/>
<circle cx="971.3" cy="672.8" r="1.6" fill="#8c1d23"/>
</svg>
<div class="a" style="left:748px;top:638.3px;font-size:13px">handle</div>
<div class="a" style="left:728.8px;top:702px;font-size:13px;word-spacing:-2.5px">clamping bush</div>
<div class="a" style="left:506.3px;top:702px;font-size:13px;word-spacing:-2px">pin gauge (go)</div>
<div class="a" style="left:925px;top:702px;font-size:13px;word-spacing:-2px">pin gauge (no go)</div>
</body></html>
